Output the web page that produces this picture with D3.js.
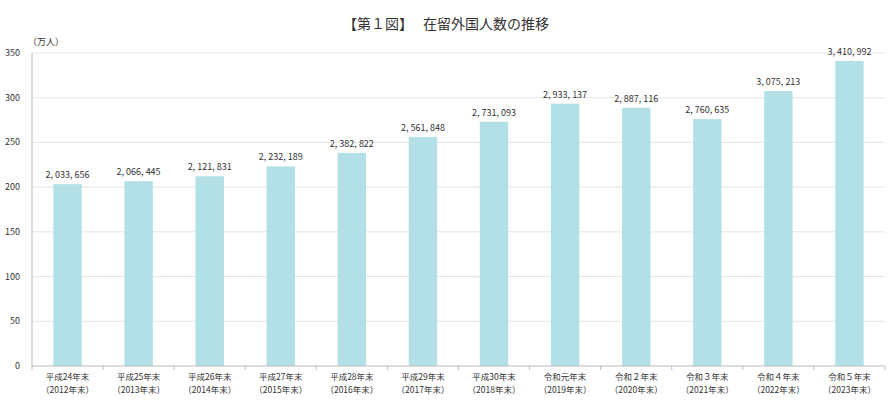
<!DOCTYPE html>
<html><head><meta charset="utf-8">
<script src="https://cdn.jsdelivr.net/npm/d3@7"></script>
<style>body{margin:0;background:#fff;font-family:"Noto Sans CJK JP","Noto Sans",sans-serif;}</style>
</head><body><svg id="c" width="893" height="400"></svg>
<script>
var categories = ["平成24年末","平成25年末","平成26年末","平成27年末","平成28年末","平成29年末","平成30年末","令和元年末","令和２年末","令和３年末","令和４年末","令和５年末"];
var years = ["（2012年末）","（2013年末）","（2014年末）","（2015年末）","（2016年末）","（2017年末）","（2018年末）","（2019年末）","（2020年末）","（2021年末）","（2022年末）","（2023年末）"];
var values = [2033656,2066445,2121831,2232189,2382822,2561848,2731093,2933137,2887116,2760635,3075213,3410992];
var yTicks = [0,50,100,150,200,250,300,350];

var svg = d3.select("#c");
var m = {l:32, r:885, t:53, b:366};
var x = d3.scaleBand().domain(categories).range([m.l, m.r]).paddingInner(0.6).paddingOuter(0.3);
var y = d3.scaleLinear().domain([0,350]).range([m.b, m.t]);

svg.append("text").attr("x",446).attr("y",29).attr("text-anchor","middle")
  .attr("font-size",14).attr("fill","#333").text("【第１図】　 在留外国人数の推移");

svg.selectAll(".g").data(yTicks.slice(1)).enter().append("line")
  .attr("x1",m.l).attr("x2",m.r).attr("y1",d=>y(d)).attr("y2",d=>y(d))
  .attr("stroke","#e4e4e4");
svg.selectAll(".yt").data(yTicks).enter().append("text")
  .attr("x",20).attr("y",d=>y(d)+3).attr("text-anchor","end")
  .attr("font-size",9).attr("fill","#333").text(d=>d);
svg.append("text").attr("x",28).attr("y",45).attr("font-size",9).attr("fill","#333").text("（万人）");

svg.selectAll(".bar").data(values).enter().append("rect")
  .attr("x",(d,i)=>x(categories[i])).attr("width",x.bandwidth())
  .attr("y",d=>y(d/10000)).attr("height",d=>m.b-y(d/10000))
  .attr("fill","#b3dfe6");
svg.selectAll(".lab").data(values).enter().append("text")
  .attr("x",(d,i)=>x(categories[i])+x.bandwidth()/2).attr("y",d=>y(d/10000)-6)
  .attr("text-anchor","middle").attr("font-size",9).attr("fill","#333")
  .text(d=>d3.format(",")(d).replace(/,/g,", "));

svg.append("line").attr("x1",m.l).attr("x2",m.l).attr("y1",m.t).attr("y2",m.b).attr("stroke","#bbb");
svg.append("line").attr("x1",m.l).attr("x2",m.r).attr("y1",m.b).attr("y2",m.b).attr("stroke","#bbb");
var step = x.step();
svg.selectAll(".xt").data(d3.range(13)).enter().append("line")
  .attr("x1",i=>m.l+i*(m.r-m.l)/12).attr("x2",i=>m.l+i*(m.r-m.l)/12)
  .attr("y1",m.b).attr("y2",m.b+4).attr("stroke","#bbb");
svg.selectAll(".xl").data(categories).enter().append("text")
  .attr("x",d=>x(d)+x.bandwidth()/2).attr("y",380).attr("text-anchor","middle")
  .attr("font-size",8.5).attr("fill","#333").text(d=>d);
svg.selectAll(".xl2").data(years).enter().append("text")
  .attr("x",(d,i)=>x(categories[i])+x.bandwidth()/2).attr("y",393).attr("text-anchor","middle")
  .attr("font-size",8.5).attr("fill","#333").text(d=>d);
</script></body></html>
